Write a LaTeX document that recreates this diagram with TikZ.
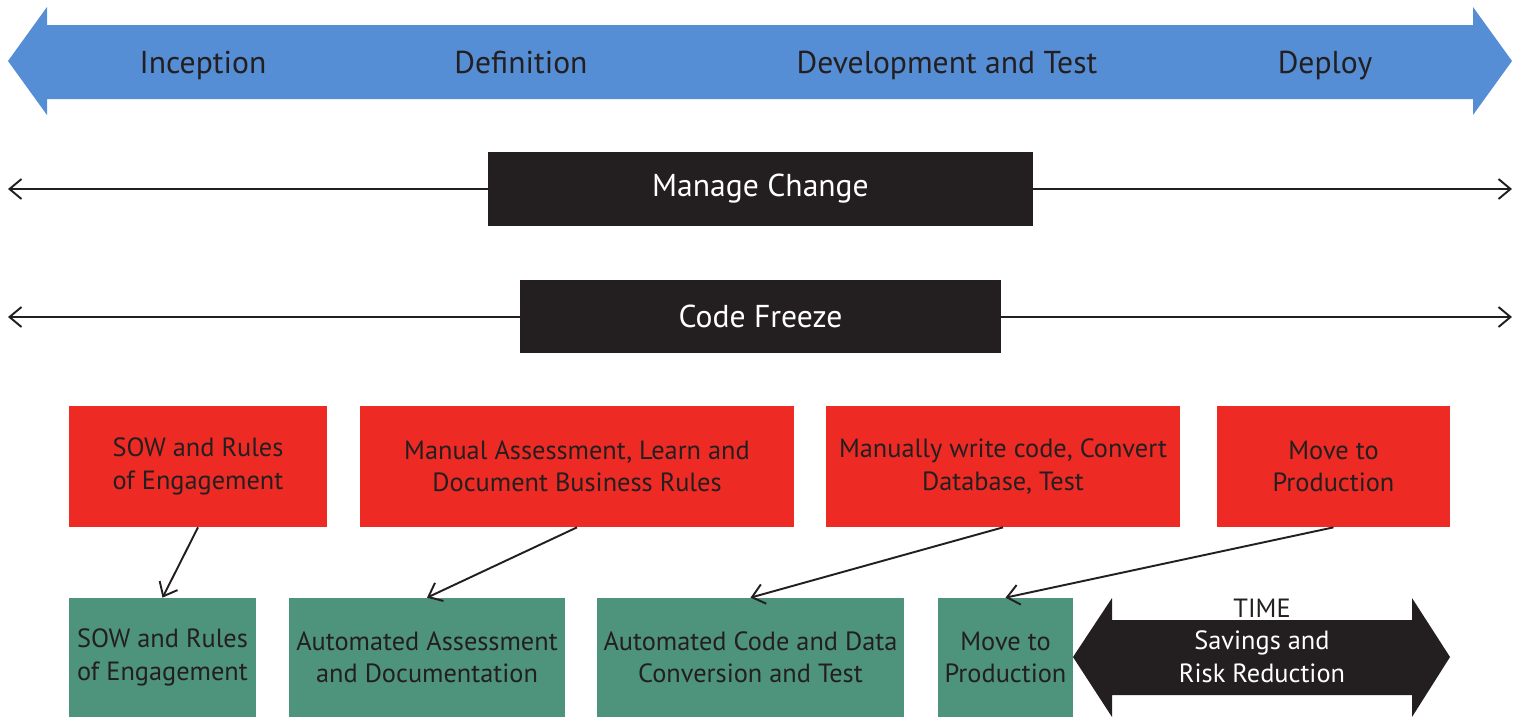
\documentclass[tikz,border=0pt]{standalone}
\usepackage{fontspec}
\setmainfont{PT Sans}
\usetikzlibrary{arrows.meta}
\definecolor{phaseblue}{HTML}{558ED5}
\definecolor{oldred}{HTML}{EE2A24}
\definecolor{newgreen}{HTML}{4E937B}
\definecolor{inkblack}{HTML}{231F20}

\begin{document}
\begin{tikzpicture}[x=0.02cm,y=-0.02cm,>={Straight Barb[length=0.24cm,width=0.4cm]}]
    \useasboundingbox (0,0) rectangle (1525,717);

    % Phase arrow on top %
    \fill[phaseblue] (8,61) -- (47,7) -- (47,25) -- (1473,25) -- (1473,7) -- (1512,61)
        -- (1473,115) -- (1473,99) -- (47,99) -- (47,115) -- cycle;

    \begin{scope}[every node/.style={anchor=base,text=inkblack,font=\fontsize{18}{22}\selectfont}]
        \node (p1) at (203,73) {Inception};
        \node (p2) at (521,73) {Definition};
        \node (p3) at (947,73) {Development and Test};
        \node (p4) at (1325,73) {Deploy};
    \end{scope}

    % Span lines %
    \coordinate (mcL) at (8,189);
    \coordinate (mcR) at (1512,189);
    \coordinate (cfL) at (8,317);
    \coordinate (cfR) at (1512,317);
    \draw[<->,draw=inkblack,line width=1.1pt] (mcL) -- (mcR);
    \draw[<->,draw=inkblack,line width=1.1pt] (cfL) -- (cfR);

    \begin{scope}[every node/.style={rectangle,fill=inkblack,text=white,inner sep=0pt,font=\fontsize{18}{22}\selectfont}]
        \node[minimum width=545*0.02cm,minimum height=74*0.02cm] (mc) at (760.5,189) {Manage Change};
        \node[minimum width=481*0.02cm,minimum height=73*0.02cm] (cf) at (760.5,316.5) {Code Freeze};
    \end{scope}

    % Old way (red) and new way (green) %
    \begin{scope}[every node/.style={rectangle,inner sep=0pt,align=center,text=inkblack,font=\fontsize{15}{18.5}\selectfont}]
        \node[fill=oldred,minimum width=258*0.02cm,minimum height=121*0.02cm] (r1) at (198,466.5) {SOW and Rules\\of Engagement};
        \node[fill=oldred,minimum width=434*0.02cm,minimum height=121*0.02cm] (r2) at (577,466.5) {Manual Assessment, Learn and\\Document Business Rules};
        \node[fill=oldred,minimum width=354*0.02cm,minimum height=121*0.02cm] (r3) at (1003,466.5) {Manually write code, Convert\\Database, Test};
        \node[fill=oldred,minimum width=233*0.02cm,minimum height=121*0.02cm] (r4) at (1333.5,466.5) {Move to\\Production};

        \node[fill=newgreen,minimum width=187*0.02cm,minimum height=119*0.02cm] (g1) at (162.5,657.5) {SOW and Rules\\of Engagement};
        \node[fill=newgreen,minimum width=276*0.02cm,minimum height=119*0.02cm] (g2) at (427,657.5) {Automated Assessment\\and Documentation};
        \node[fill=newgreen,minimum width=307*0.02cm,minimum height=119*0.02cm] (g3) at (750.5,657.5) {Automated Code and Data\\Conversion and Test};
        \node[fill=newgreen,minimum width=135*0.02cm,minimum height=119*0.02cm] (g4) at (1005.5,657.5) {Move to\\Production};
    \end{scope}

    \begin{scope}[every path/.style={draw=inkblack,line width=1.1pt}]
        \draw [->] (r1.south) -- (g1.north);
        \draw [->] (r2.south) -- (g2.north);
        \draw [->] (r3.south) -- (g3.north);
        \draw [->] (r4.south) -- (g4.north);
    \end{scope}

    % Time savings arrow %
    \fill[inkblack] (1073,657) -- (1112,598) -- (1112,620) -- (1412,620) -- (1412,598) -- (1450,657)
        -- (1412,717) -- (1412,695) -- (1112,695) -- (1112,717) -- cycle;
    \node[text=inkblack,font=\fontsize{15}{18.5}\selectfont] (tm) at (1262,608) {TIME};
    \node[text=white,align=center,font=\fontsize{15}{18.5}\selectfont] (sv) at (1262,657) {Savings and\\Risk Reduction};

\end{tikzpicture}
\end{document}
